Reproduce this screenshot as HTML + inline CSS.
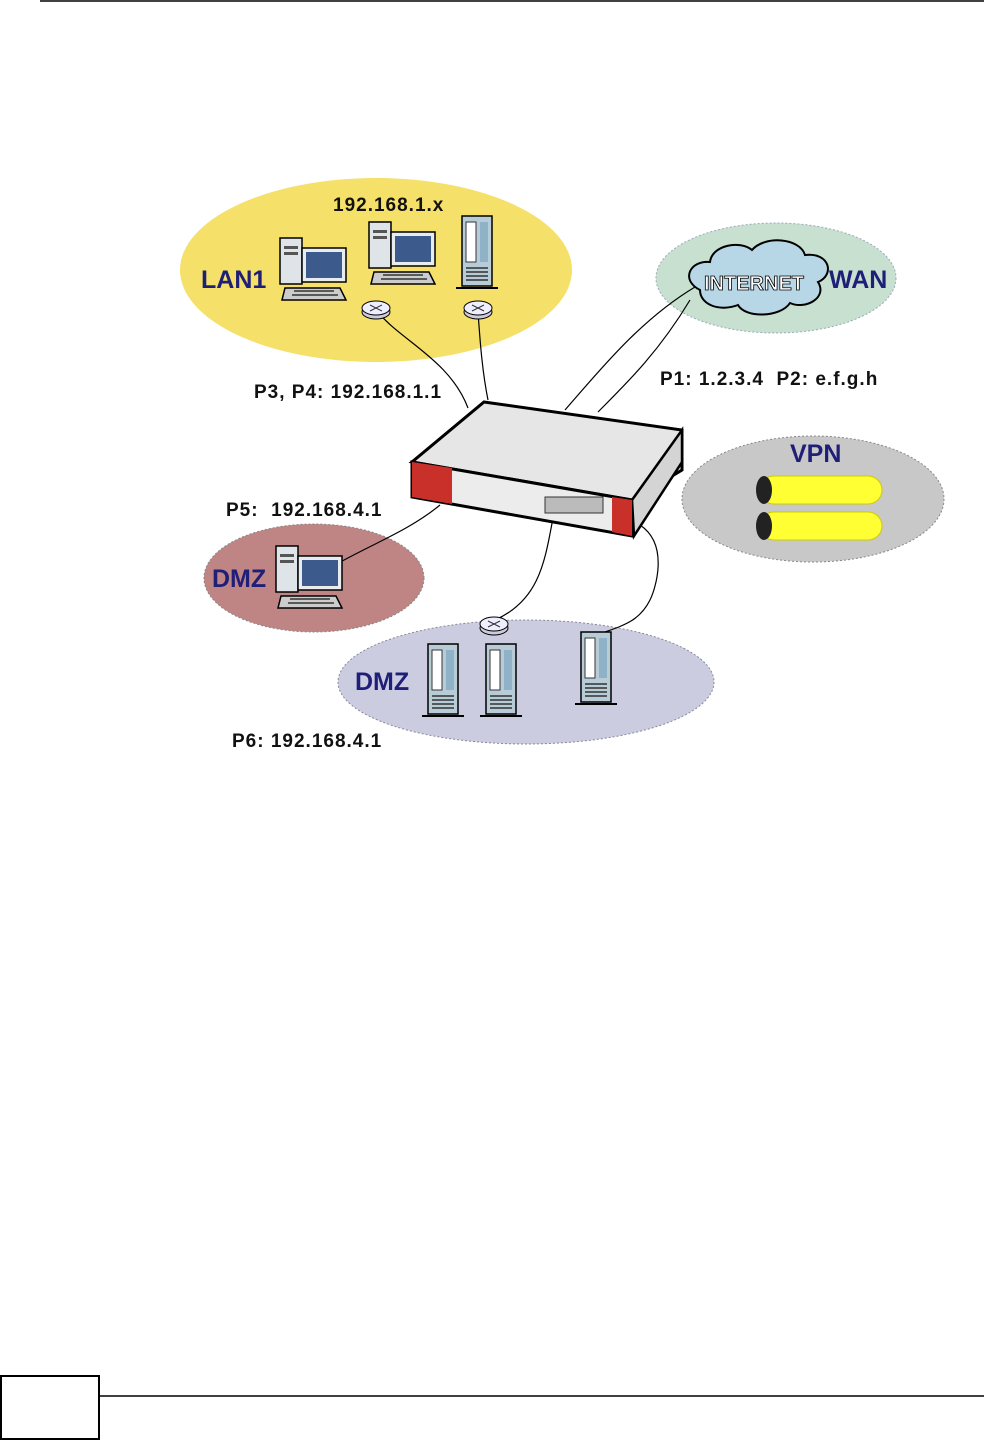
<!DOCTYPE html>
<html><head><meta charset="utf-8"><style>
html,body{margin:0;padding:0;background:#fff}
svg{display:block}
text{font-family:"Liberation Sans",Arial,sans-serif;font-weight:bold}
</style></head><body>
<svg width="984" height="1440" viewBox="0 0 984 1440" xmlns="http://www.w3.org/2000/svg">
<defs>
<g id="pc">
 <rect x="0" y="0" width="22" height="46" fill="#dfe4e8" stroke="#000" stroke-width="1.5"/>
 <rect x="4" y="8" width="14" height="3" fill="#555"/>
 <rect x="4" y="14" width="14" height="3" fill="#555"/>
 <rect x="22" y="10" width="44" height="34" fill="#e8ecef" stroke="#000" stroke-width="1.5"/>
 <rect x="26" y="14" width="36" height="26" fill="#3d5a8c"/>
 <path d="M5 50 L60 50 L66 62 L2 62 Z" fill="#ccc" stroke="#000" stroke-width="1.5"/>
 <path d="M14 53 L54 53 M12 57 L58 57" stroke="#333" stroke-width="1.5"/>
</g>
<g id="srv">
 <rect x="0" y="0" width="30" height="70" fill="#b8ccd8" stroke="#000" stroke-width="1.5"/>
 <rect x="4" y="6" width="10" height="40" fill="#fff" stroke="#333"/>
 <rect x="18" y="6" width="8" height="40" fill="#8fb2c8"/>
 <path d="M4 52 H26 M4 56 H26 M4 60 H26 M4 64 H26" stroke="#333" stroke-width="1.5"/>
 <path d="M-6 72 H36" stroke="#000" stroke-width="2"/>
</g>
<g id="hub">
 <ellipse cx="0" cy="4" rx="14" ry="7" fill="#ccd" stroke="#000"/>
 <ellipse cx="0" cy="0" rx="14" ry="7" fill="#eef" stroke="#000"/>
 <path d="M-6 -3 L6 3 M6 -3 L-6 3" stroke="#333"/>
</g>
</defs>

<line x1="40" y1="1" x2="984" y2="1" stroke="#000" stroke-width="1.5"/>

<ellipse cx="376" cy="270" rx="196" ry="92" fill="#f5e06a"/>
<ellipse cx="776" cy="278" rx="120" ry="55" fill="#c7e0cf" stroke="#9ab" stroke-dasharray="2,2"/>
<ellipse cx="813" cy="499" rx="131" ry="63" fill="#c8c8c8" stroke="#888" stroke-dasharray="2,2"/>
<ellipse cx="314" cy="578" rx="110" ry="54" fill="#bf8484" stroke="#888" stroke-dasharray="2,2"/>
<ellipse cx="526" cy="682" rx="188" ry="62" fill="#cbcce0" stroke="#889" stroke-dasharray="2,2"/>

<path d="M700 290 C680 280 690 260 710 262 C712 245 740 240 752 250 C765 235 800 238 805 255 C830 252 835 275 818 282 C828 298 805 310 790 303 C780 318 745 318 738 305 C720 312 700 305 700 290 Z" fill="#b7d6e6" stroke="#000" stroke-width="2"/>

<g fill="none" stroke="#000" stroke-width="1.2">
<path d="M378 312 C400 340 450 360 468 408"/>
<path d="M478 312 C480 340 482 370 488 400"/>
<path d="M565 410 C600 370 640 320 695 287"/>
<path d="M598 412 C630 380 660 350 690 300"/>
<path d="M440 505 C410 530 370 545 335 565"/>
<path d="M553 518 C545 560 540 600 495 620"/>
<path d="M640 525 C670 545 655 590 650 600 C640 620 625 625 605 632"/>
</g>

<use href="#pc" x="280" y="238"/>
<use href="#pc" x="369" y="222"/>
<use href="#srv" x="462" y="216"/>
<use href="#hub" x="376" y="308"/>
<use href="#hub" x="478" y="308"/>
<use href="#pc" x="276" y="546"/>
<use href="#hub" x="494" y="624"/>
<use href="#srv" x="428" y="644"/>
<use href="#srv" x="486" y="644"/>
<use href="#srv" x="581" y="632"/>

<g>
<rect x="760" y="476" width="122" height="28" rx="14" fill="#ffff33" stroke="#cc0"/>
<ellipse cx="764" cy="490" rx="8" ry="14" fill="#222"/>
<rect x="760" y="512" width="122" height="28" rx="14" fill="#ffff33" stroke="#cc0"/>
<ellipse cx="764" cy="526" rx="8" ry="14" fill="#222"/>
</g>

<path d="M484 402 L682 430 L682 470 L632 500 L412 462 Z" fill="#e6e6e6" stroke="#000" stroke-width="3"/>
<path d="M412 462 L632 500 L632 536 L412 497 Z" fill="#ececec" stroke="#000" stroke-width="3"/>
<path d="M632 500 L682 430 L682 462 L634 536 Z" fill="#d4d4d4" stroke="#000" stroke-width="2.5"/>
<path d="M412 462 L452 468 L452 504 L412 497 Z" fill="#c9302a"/>
<path d="M612 497 L632 500 L632 536 L612 532 Z" fill="#c9302a"/>
<rect x="545" y="497" width="58" height="16" fill="#bbb" stroke="#333"/>

<g fill="#1f1f78" font-size="25">
<text x="201" y="288">LAN1</text>
<text x="829" y="288">WAN</text>
<text x="790" y="462">VPN</text>
<text x="212" y="587">DMZ</text>
<text x="355" y="690">DMZ</text>
</g>
<text x="704" y="290" font-size="20" fill="#fff" stroke="#000" stroke-width="0.8">INTERNET</text>
<g fill="#111" font-size="19" letter-spacing="1">
<text x="333" y="211">192.168.1.x</text>
<text x="254" y="398">P3, P4: 192.168.1.1</text>
<text x="660" y="385" xml:space="preserve">P1: 1.2.3.4  P2: e.f.g.h</text>
<text x="226" y="516" xml:space="preserve">P5:  192.168.4.1</text>
<text x="232" y="747">P6: 192.168.4.1</text>
</g>

<rect x="1" y="1376" width="98" height="63" fill="none" stroke="#000" stroke-width="2"/>
<line x1="100" y1="1396" x2="984" y2="1396" stroke="#000" stroke-width="1.5"/>
</svg>
</body></html>
